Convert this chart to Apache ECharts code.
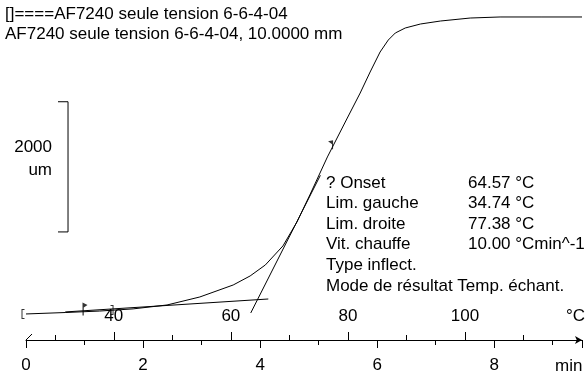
<!DOCTYPE html>
<html>
<head>
<meta charset="utf-8">
<script src="https://cdn.jsdelivr.net/npm/echarts@6/dist/echarts.min.js"></script>
<style>
  html, body { margin: 0; padding: 0; background: #fff; }
  #chart { width: 585px; height: 376px; }
</style>
</head>
<body>
<div id="chart"></div>
<script>
// Dilatometer trace: sample length change (um) against sample temperature (°C),
// heating at 10 °C/min, so the time axis and the temperature axis share one line.
const FONT = '"Liberation Sans", Arial, sans-serif';

const tempC = [25, 31.7, 37.6, 43.3, 49.1, 54.7, 60.4, 63.3, 65.9, 68.9, 71.3, 73.5,
               76.5, 79.9, 82.1, 83.8, 85.5, 86.9, 88.1, 89.8, 92.4, 95.8, 100.9, 106, 113, 120];
const displacementUm = [0, 22, 45, 78, 138, 261, 445, 584, 753, 1045, 1413, 1828,
                        2412, 3010, 3394, 3717, 4024, 4208, 4316, 4393, 4454, 4500, 4546, 4562, 4562, 4562];

// Evaluation results
const onsetC = 64.57;
const limGaucheC = 34.74;
const limDroiteC = 77.38;
const baselineTangent = [[31.7, 31], [66.4, 230]];
const inflectionTangent = [[63.4, 15], [75.3, 2130]];
const baselineRange = [[25, 0], [39.7, 46]];
const limMarkers = [[limGaucheC, 30], [limDroiteC, 2567]];

// 2000 um scale bar, in data units
const scaleBarC = [30.47, 32.18];
const scaleBarUm = [1260, 3260];

// Axes
const timeMin = 0, timeMax = 9.5;
const tempMin = 25, tempMax = 120;
const tempMajor = [40, 60, 80, 100];
const tempMinor = [30, 50, 70, 90, 110];

const titleLines = ['[]====AF7240 seule tension 6-6-4-04',
                    'AF7240 seule tension 6-6-4-04, 10.0000 mm'];
const infoLabels = ['? Onset', 'Lim. gauche', 'Lim. droite', 'Vit. chauffe',
                    'Type inflect.', 'Mode de résultat Temp. échant.'];
const infoValues = ['64.57 °C', '34.74 °C', '77.38 °C', '10.00 °Cmin^-1', '', ''];

const chart = echarts.init(document.getElementById('chart'), null, { renderer: 'canvas' });

const black = '#000';
const txt = (text, x, y, align) => ({
  type: 'text', x: x, y: y, silent: true,
  style: { text: text, fill: black, fontSize: 17, fontFamily: FONT,
           align: align || 'left', verticalAlign: 'middle' }
});

const graphics = [];
titleLines.forEach((t, i) => graphics.push(txt(t, 5, 14 + i * 20)));
graphics.push(txt('2000', 52, 147, 'right'));
graphics.push(txt('um', 52, 170, 'right'));
infoLabels.forEach((t, i) => graphics.push(txt(t, 326, 183 + i * 20.6)));
infoValues.forEach((t, i) => { if (t) graphics.push(txt(t, 468, 183 + i * 20.6)); });
graphics.push(txt('°C', 566, 316));
graphics.push(txt('min', 555, 366));
graphics.push({ type: 'line', silent: true,
  shape: { x1: 26, y1: 340, x2: 32, y2: 334 }, style: { stroke: black, lineWidth: 1 } });

const gridBox = { left: 26, right: 3, top: 8, bottom: 36 };
const axisOffset = -(376 - gridBox.top - gridBox.bottom);

const lineSeries = (data, name) => ({
  name: name, type: 'line', xAxisIndex: 1, yAxisIndex: 0, data: data,
  showSymbol: false, symbol: 'none', silent: true, clip: false,
  lineStyle: { color: black, width: 1 }
});

chart.setOption({
  animation: false,
  backgroundColor: '#fff',
  grid: [Object.assign({}, gridBox), Object.assign({}, gridBox)],
  xAxis: [
    { // time, minutes
      type: 'value', gridIndex: 0, position: 'bottom', min: timeMin, max: timeMax, interval: 2,
      axisLine: { onZero: false, lineStyle: { color: black, width: 1 },
                  symbol: ['none', 'arrow'], symbolSize: [6, 7] },
      axisTick: { show: true, length: 8, lineStyle: { color: black } },
      minorTick: { show: true, splitNumber: 2, length: 5, lineStyle: { color: black } },
      axisLabel: { color: black, fontSize: 17, fontFamily: FONT, margin: 17,
                   showMaxLabel: false },
      splitLine: { show: false }
    },
    { // temperature, major ticks and labels, placed on the same baseline
      type: 'value', gridIndex: 0, position: 'top', offset: axisOffset, min: tempMin, max: tempMax,
      axisLine: { show: false, onZero: false },
      axisTick: { show: true, length: 8, lineStyle: { color: black }, customValues: tempMajor },
      axisLabel: { color: black, fontSize: 17, fontFamily: FONT, margin: 15, customValues: tempMajor },
      splitLine: { show: false }
    },
    { // temperature, minor ticks
      type: 'value', gridIndex: 1, position: 'top', offset: axisOffset, min: tempMin, max: tempMax,
      axisLine: { show: false, onZero: false },
      axisTick: { show: true, length: 5, lineStyle: { color: black }, customValues: tempMinor },
      axisLabel: { show: false },
      splitLine: { show: false }
    }
  ],
  yAxis: [
    { type: 'value', gridIndex: 0, min: -400, max: 4700, show: false, splitLine: { show: false } },
    { type: 'value', gridIndex: 1, min: -400, max: 4700, show: false, splitLine: { show: false } }
  ],
  series: [
    lineSeries(tempC.map((t, i) => [t, displacementUm[i]]), 'trace'),
    lineSeries(baselineTangent, 'baseline tangent'),
    lineSeries(inflectionTangent, 'inflection tangent'),
    lineSeries([[scaleBarC[0], scaleBarUm[1]], [scaleBarC[1], scaleBarUm[1]],
                [scaleBarC[1], scaleBarUm[0]], [scaleBarC[0], scaleBarUm[0]]], 'scale bar'),
    { // baseline range brackets
      type: 'scatter', xAxisIndex: 1, yAxisIndex: 0, silent: true, clip: false,
      data: [
        { value: baselineRange[0], symbol: 'path://M3,0 L0,0 L0,10 L3,10 L3,9 L1,9 L1,1 L3,1 Z',
          symbolSize: [3, 10], symbolOffset: [-3, 0] },
        { value: baselineRange[1], symbol: 'path://M0,0 L3,0 L3,10 L0,10 L0,9 L2,9 L2,1 L0,1 Z',
          symbolSize: [3, 10], symbolOffset: [0, -1] }
      ],
      itemStyle: { color: black }
    },
    { // evaluation limits
      type: 'scatter', xAxisIndex: 1, yAxisIndex: 0, silent: true, clip: false,
      data: [
        { value: limMarkers[0], symbol: 'path://M0,0 L4,2.5 L1,5 L1,13 L0,13 Z',
          symbolSize: [5, 13], symbolOffset: [2, -3] },
        { value: limMarkers[1], symbol: 'path://M0,1 L5,0 L5,9 L4,9 L4,4 Z',
          symbolSize: [5, 9], symbolOffset: [-2, -2] }
      ],
      itemStyle: { color: black }
    }
  ],
  graphic: graphics
});
</script>
</body>
</html>
